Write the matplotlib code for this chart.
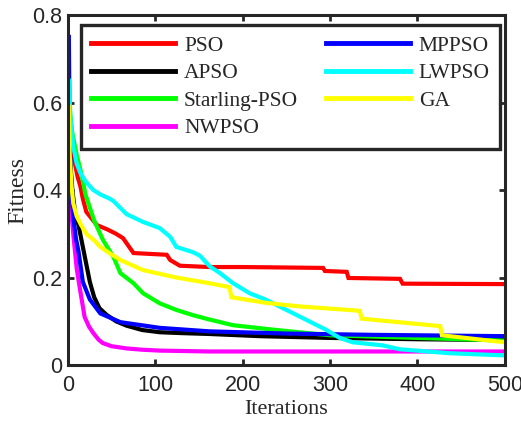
import matplotlib
matplotlib.use("Agg")
import matplotlib.pyplot as plt

# ---- data ----
pso_it = [1, 3, 5, 8, 11, 14, 17, 21, 25, 33, 45, 55, 63, 70, 75, 113, 117, 128, 162, 200, 292, 294, 319, 321, 380, 383, 500]
pso_v = [0.56, 0.52, 0.50, 0.46, 0.43, 0.41, 0.38, 0.35, 0.34, 0.32, 0.31, 0.30, 0.29, 0.27, 0.256, 0.252, 0.24, 0.227, 0.224, 0.224, 0.222, 0.215, 0.213, 0.199, 0.197, 0.186, 0.185]

apso_it = [1, 2, 5, 8, 12, 16, 20, 25, 30, 36, 44, 55, 67, 85, 105, 130, 162, 220, 300, 400, 500]
apso_v = [0.55, 0.48, 0.40, 0.35, 0.32, 0.28, 0.24, 0.19, 0.155, 0.13, 0.115, 0.10, 0.09, 0.08, 0.075, 0.073, 0.071, 0.066, 0.062, 0.059, 0.057]

star_it = [1, 5, 10, 15, 20, 25, 30, 40, 52, 60, 75, 86, 105, 124, 143, 162, 189, 239, 300, 400, 500]
star_v = [0.60, 0.53, 0.48, 0.44, 0.39, 0.36, 0.33, 0.286, 0.247, 0.21, 0.187, 0.164, 0.141, 0.126, 0.114, 0.104, 0.091, 0.08, 0.068, 0.062, 0.056]

nw_it = [1, 2, 3, 6, 10, 14, 19, 24, 29, 35, 40, 50, 67, 85, 105, 162, 300, 500]
nw_v = [0.55, 0.45, 0.37, 0.30, 0.22, 0.17, 0.11, 0.088, 0.073, 0.058, 0.05, 0.043, 0.038, 0.035, 0.033, 0.031, 0.031, 0.031]

mp_it = [1, 2, 4, 6, 9, 12, 17, 25, 37, 60, 105, 162, 250, 350, 500]
mp_v = [0.75, 0.50, 0.40, 0.34, 0.29, 0.26, 0.19, 0.15, 0.118, 0.098, 0.085, 0.077, 0.072, 0.069, 0.066]

lw_it = [1, 3, 6, 10, 14, 20, 29, 37, 48, 52, 67, 86, 105, 117, 124, 143, 151, 162, 174, 189, 208, 227, 250, 273, 296, 311, 326, 360, 380, 437, 500]
lw_v = [0.65, 0.56, 0.50, 0.46, 0.44, 0.42, 0.40, 0.39, 0.38, 0.375, 0.345, 0.327, 0.313, 0.293, 0.27, 0.258, 0.25, 0.226, 0.21, 0.187, 0.164, 0.149, 0.126, 0.103, 0.08, 0.062, 0.052, 0.045, 0.036, 0.027, 0.022]

ga_it = [1, 2, 4, 6, 10, 15, 21, 30, 37, 48, 60, 86, 124, 162, 185, 187, 227, 265, 334, 336, 426, 428, 500]
ga_v = [0.59, 0.48, 0.41, 0.37, 0.34, 0.32, 0.30, 0.285, 0.27, 0.255, 0.24, 0.217, 0.20, 0.187, 0.178, 0.155, 0.142, 0.134, 0.124, 0.106, 0.089, 0.068, 0.052]

labels = ["PSO", "APSO", "Starling-PSO", "NWPSO", "MPPSO", "LWPSO", "GA"]
colors = ["#ff0000", "#000000", "#00ff00", "#ff00ff", "#0000ff", "#00ffff", "#ffff00"]
series = [(pso_it, pso_v), (apso_it, apso_v), (star_it, star_v), (nw_it, nw_v),
          (mp_it, mp_v), (lw_it, lw_v), (ga_it, ga_v)]

xticks = [0, 100, 200, 300, 400, 500]
yticks = [0, 0.2, 0.4, 0.6, 0.8]

dark = "#262626"
fig = plt.figure(figsize=(5.21, 4.23), dpi=100)
ax = fig.add_axes([0.1305, 0.137, 0.8385, 0.8275])

for (x, y), lab, c in zip(series, labels, colors):
    ax.plot(x, y, color=c, lw=3.0, label=lab, solid_joinstyle="miter")

ax.set_xlim(0, 500)
ax.set_ylim(0, 0.8)
ax.set_xticks(xticks)
ax.set_yticks(yticks)
ax.set_xticklabels([str(t) for t in xticks])
ax.set_yticklabels(["0", "0.2", "0.4", "0.6", "0.8"])
ax.tick_params(direction="in", length=4, width=2, top=True, right=True,
               labelsize=15.5, colors=dark)
ax.tick_params(axis="x", pad=7)
ax.tick_params(axis="y", pad=4)
for lab in ax.get_xticklabels() + ax.get_yticklabels():
    lab.set_family("Liberation Sans")
for s in ax.spines.values():
    s.set_linewidth(2.2)
    s.set_color(dark)

ax.set_xlabel("Iterations", family="Liberation Serif", fontsize=16, labelpad=3, color=dark)
ax.set_ylabel("Fitness", family="Liberation Serif", fontsize=17, labelpad=3, color=dark)

leg = ax.legend(ncol=2, loc="upper right", bbox_to_anchor=(0.99, 0.972),
                borderaxespad=0,
                prop={"family": "Liberation Serif", "size": 15.5},
                handlelength=3.9, handletextpad=0.4, columnspacing=1.3,
                labelspacing=0.35, borderpad=0.5, fancybox=False,
                edgecolor=dark, framealpha=1)
leg.get_frame().set_linewidth(2.4)
for t in leg.get_texts():
    t.set_color(dark)
for h in leg.get_lines():
    h.set_linewidth(3.5)

fig.savefig("out.png", dpi=100)
